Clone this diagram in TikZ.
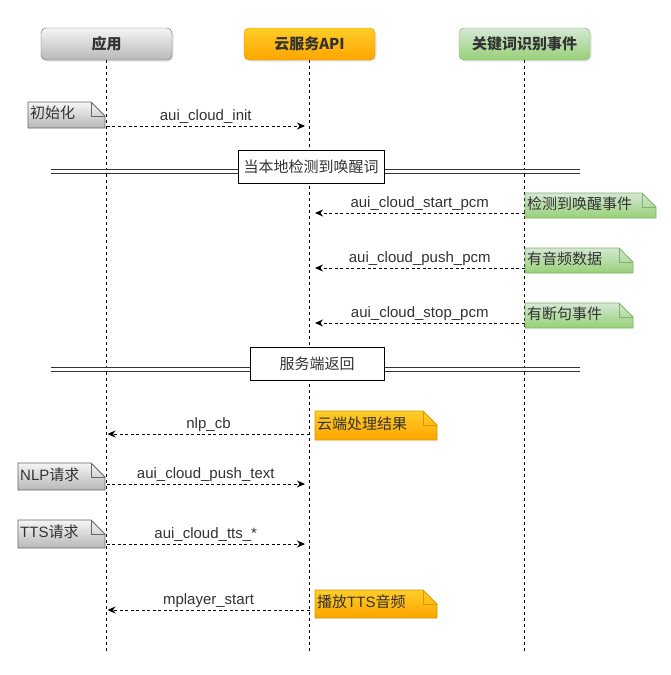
\documentclass[tikz,border=0pt]{standalone}
\usepackage{fontspec}
\setmainfont{Liberation Sans}
\newfontfamily\cjk{Noto Sans CJK SC}
\usetikzlibrary{arrows.meta,shadows}
\definecolor{txt}{HTML}{333333}
\definecolor{grayT}{HTML}{F5F5F5}
\definecolor{grayB}{HTML}{B8B8B8}
\definecolor{grayD}{HTML}{666666}
\definecolor{orT}{HTML}{FFCD28}
\definecolor{orB}{HTML}{FFA500}
\definecolor{orD}{HTML}{D79B00}
\definecolor{grT}{HTML}{D5E8D4}
\definecolor{grB}{HTML}{97D077}
\definecolor{grD}{HTML}{82B366}
\tikzset{
  head/.style={rounded corners=5pt, minimum width=131pt, minimum height=32pt, inner sep=0pt,
    text=txt, font=\cjk\bfseries\fontsize{15}{17}\selectfont,
    drop shadow={opacity=0.2, shadow xshift=1.5pt, shadow yshift=-1.5pt}},
  grayhead/.style={head, draw=grayD, top color=grayT, bottom color=grayB},
  orhead/.style={head, draw=orD, top color=orT, bottom color=orB},
  grhead/.style={head, draw=grD, top color=grT, bottom color=grB},
  life/.style={draw=black, line width=0.9pt, dash pattern=on 3pt off 3pt},
  msg/.style={draw=black, line width=1pt, dash pattern=on 3pt off 2.5pt, -{Stealth[length=8pt,width=7pt]}},
  lbl/.style={above, inner sep=2pt, text=txt, font=\fontsize{15}{17}\selectfont},
  notetext/.style={anchor=west, inner sep=2pt, text=txt, font=\fontsize{15}{17}\selectfont},
  divline/.style={draw=txt, double=white, double distance=2.8pt, line width=0.9pt},
  divbox/.style={draw=black, fill=white, line width=0.9pt, inner sep=0pt, text=txt, font=\cjk\fontsize{15}{17}\selectfont},
}
\newcommand\notebox[9]{%
  \shadedraw[top color=#6, bottom color=#7, draw=#8, line width=0.8pt]
    (#2,#3) -- ({#4-14},#3) -- (#4,{#3+14}) -- (#4,#5) -- (#2,#5) -- cycle;
  \draw[draw=#8, line width=0.8pt] ({#4-14},#3) -- ({#4-14},{#3+14}) -- (#4,{#3+14});
  \node[notetext] (#1) at (#2,{(#3+#5)/2-2}) {#9};
}
\begin{document}
\begin{tikzpicture}[x=1pt,y=-1pt]
\useasboundingbox[fill=white] (0,0) rectangle (671,675);

% headers
\node[grayhead] (hA) at (106.5,44) {应用};
\node[orhead] (hB) at (309.5,44) {云服务API};
\node[grhead] (hC) at (524.5,44) {关键词识别事件};

% lifelines
\coordinate (eA) at (106.5,652);
\coordinate (eB) at (309.5,652);
\coordinate (eC) at (524.5,652);
\draw[life] (hA.south) -- (eA);
\draw[life] (hB.south) -- (eB);
\draw[life] (hC.south) -- (eC);

% init
\notebox{nInit}{28}{102}{105}{128}{grayT}{grayB}{grayD}{\cjk 初始化}
\coordinate (m1s) at (106.5,126); \coordinate (m1e) at (305,126);
\draw[msg] (m1s) -- node[lbl]{aui\_cloud\_init} (m1e);

% divider 1
\coordinate (d1l) at (51,171.5); \coordinate (d1r) at (580,171.5);
\draw[divline] (d1l) -- (d1r);
\node[divbox, minimum width=146pt, minimum height=33pt] (d1) at (311,166.5) {当本地检测到唤醒词};

% wake messages
\coordinate (m2s) at (524.5,213); \coordinate (m2e) at (315,213);
\draw[msg] (m2s) -- node[lbl]{aui\_cloud\_start\_pcm} (m2e);
\notebox{nWake}{525}{193}{656}{218}{grT}{grB}{grD}{\cjk 检测到唤醒事件}

\coordinate (m3s) at (524.5,268); \coordinate (m3e) at (315,268);
\draw[msg] (m3s) -- node[lbl]{aui\_cloud\_push\_pcm} (m3e);
\notebox{nAudio}{525}{248}{633}{273}{grT}{grB}{grD}{\cjk 有音频数据}

\coordinate (m4s) at (524.5,323); \coordinate (m4e) at (315,323);
\draw[msg] (m4s) -- node[lbl]{aui\_cloud\_stop\_pcm} (m4e);
\notebox{nStop}{525}{303}{633}{328}{grT}{grB}{grD}{\cjk 有断句事件}

% divider 2
\coordinate (d2l) at (51,369.5); \coordinate (d2r) at (580,369.5);
\draw[divline] (d2l) -- (d2r);
\node[divbox, minimum width=134pt, minimum height=33pt] (d2) at (317,364) {服务端返回};

% server return
\coordinate (m5s) at (309.5,434); \coordinate (m5e) at (107.5,434);
\draw[msg] (m5s) -- node[lbl]{nlp\_cb} (m5e);
\notebox{nCloud}{315}{411}{437}{440}{orT}{orB}{orD}{\cjk 云端处理结果}

\notebox{nNlp}{18}{463}{105}{490}{grayT}{grayB}{grayD}{NLP{\cjk 请求}}
\coordinate (m6s) at (106.5,484); \coordinate (m6e) at (305,484);
\draw[msg] (m6s) -- node[lbl]{aui\_cloud\_push\_text} (m6e);

\notebox{nTts}{18}{520}{105}{548}{grayT}{grayB}{grayD}{TTS{\cjk 请求}}
\coordinate (m7s) at (106.5,544); \coordinate (m7e) at (305,544);
\draw[msg] (m7s) -- node[lbl]{aui\_cloud\_tts\_*} (m7e);

\coordinate (m8s) at (309.5,610); \coordinate (m8e) at (107.5,610);
\draw[msg] (m8s) -- node[lbl]{mplayer\_start} (m8e);
\notebox{nPlay}{315}{590}{437}{618}{orT}{orB}{orD}{{\cjk 播放}TTS{\cjk 音频}}
\end{tikzpicture}
\end{document}
